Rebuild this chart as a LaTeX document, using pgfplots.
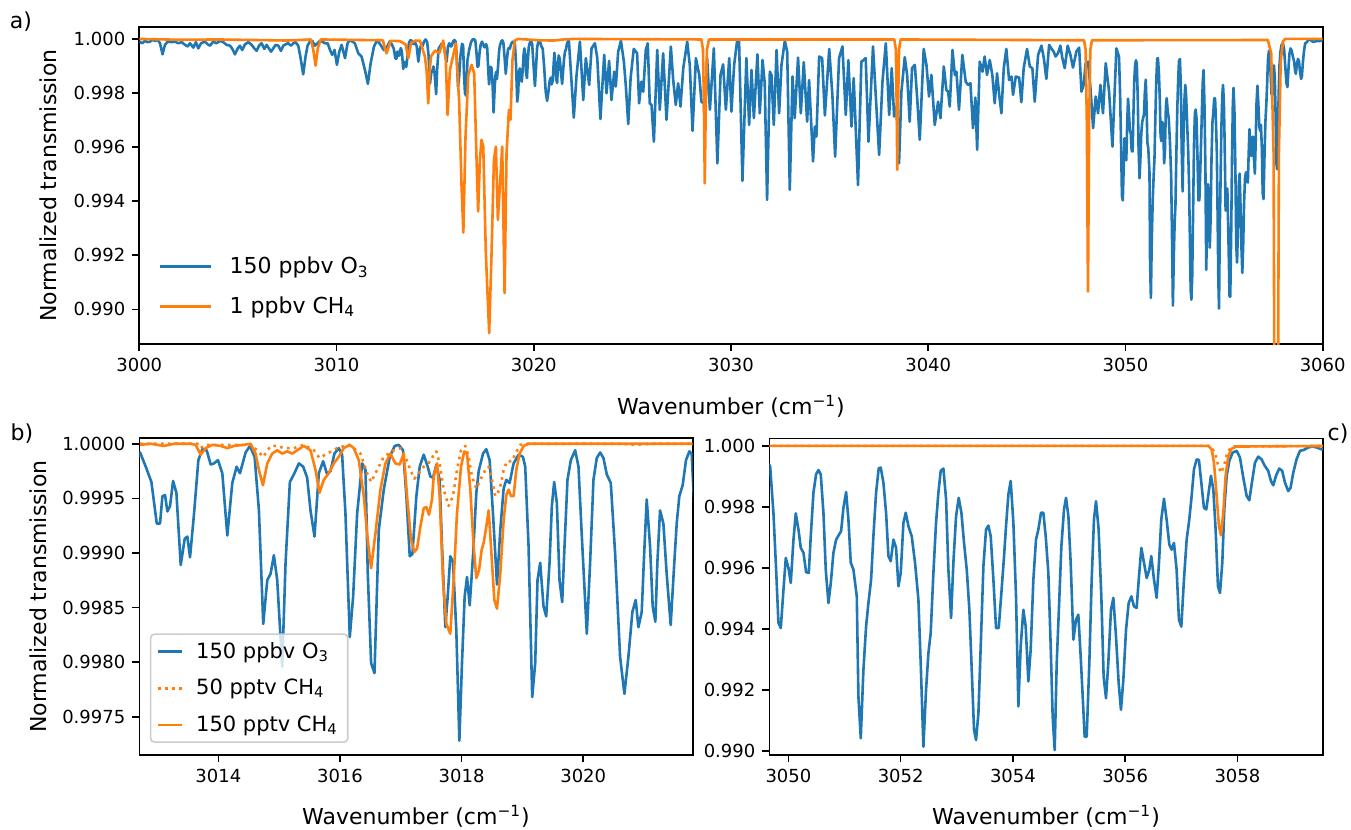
\documentclass[border=0pt]{standalone}
\usepackage{fontspec}
\setmainfont{DejaVu Sans}
\usepackage{pgfplots}
\pgfplotsset{compat=1.18}
\usepackage{pgfplotstable}
\definecolor{mplblue}{HTML}{1F77B4}
\definecolor{mplorange}{HTML}{FF7F0E}

% 150 ppbv O3 (read from panels a, b and c)
\pgfplotstableread{
x y
3000.00 0.99990
3000.15 0.99984
3000.29 0.99993
3000.42 0.99988
3000.54 0.99990
3000.66 0.99996
3000.80 0.99993
3000.93 0.99996
3001.05 0.99984
3001.18 0.99943
3001.30 0.99978
3001.44 0.99990
3001.64 0.99988
3001.81 0.99990
3001.98 0.99984
3002.15 0.99988
3002.32 0.99978
3002.45 0.99972
3002.57 0.99984
3002.74 0.99968
3002.87 0.99988
3002.99 0.99965
3003.13 0.99984
3003.33 0.99990
3003.47 0.99980
3003.58 0.99975
3003.75 0.99990
3003.92 0.99984
3004.09 0.99993
3004.26 0.99988
3004.43 0.99978
3004.60 0.99975
3004.72 0.99963
3004.85 0.99943
3004.99 0.99965
3005.10 0.99975
3005.22 0.99959
3005.36 0.99980
3005.53 0.99988
3005.70 0.99978
3005.83 0.99965
3005.95 0.99956
3006.07 0.99975
3006.20 0.99984
3006.34 0.99963
3006.46 0.99978
3006.57 0.99965
3006.68 0.99953
3006.79 0.99965
3006.91 0.99978
3007.05 0.99975
3007.18 0.99956
3007.30 0.99975
3007.42 0.99980
3007.55 0.99984
3007.69 0.99975
3007.81 0.99984
3007.92 0.99988
3008.06 0.99975
3008.18 0.99929
3008.31 0.99869
3008.43 0.99935
3008.53 0.99975
3008.65 0.99990
3008.77 0.99993
3008.90 0.99975
3009.04 0.99984
3009.16 0.99993
3009.28 0.99990
3009.41 0.99984
3009.55 0.99984
3009.67 0.99959
3009.78 0.99941
3009.90 0.99959
3010.02 0.99904
3010.14 0.99953
3010.26 0.99978
3010.43 0.99929
3010.56 0.99984
3010.68 0.99996
3010.93 0.99984
3011.10 0.99947
3011.27 0.99935
3011.44 0.99885
3011.59 0.99834
3011.73 0.99910
3011.90 0.99972
3012.06 0.99996
3012.23 0.99978
3012.40 0.99959
3012.57 0.99972
3012.713 0.99992
3012.806 0.99979
3012.899 0.99965
3012.987 0.99927
3013.041 0.99927
3013.080 0.99952
3013.123 0.99953
3013.162 0.99938
3013.206 0.99943
3013.255 0.99966
3013.310 0.99955
3013.381 0.99889
3013.447 0.99913
3013.490 0.99915
3013.534 0.99896
3013.600 0.99936
3013.671 0.99985
3013.737 0.99995
3013.808 0.99994
3013.874 0.99981
3013.928 0.99982
3013.994 0.99985
3014.065 0.99973
3014.147 0.99916
3014.229 0.99964
3014.300 0.99979
3014.355 0.99973
3014.448 0.99992
3014.519 0.99998
3014.596 0.99988
3014.667 0.99939
3014.738 0.99835
3014.804 0.99875
3014.859 0.99881
3014.913 0.99898
3014.968 0.99875
3015.050 0.99796
3015.105 0.99891
3015.176 0.99965
3015.242 0.99972
3015.324 0.99982
3015.395 0.99979
3015.460 0.99969
3015.515 0.99939
3015.581 0.99915
3015.652 0.99973
3015.723 0.99984
3015.789 0.99972
3015.844 0.99975
3015.909 0.99991
3015.980 0.99996
3016.035 0.99990
3016.090 0.99936
3016.161 0.99823
3016.216 0.99860
3016.282 0.99936
3016.364 0.99982
3016.419 0.99976
3016.457 0.99881
3016.512 0.99799
3016.567 0.99790
3016.638 0.99921
3016.720 0.99958
3016.818 0.99988
3016.900 0.99998
3016.966 0.99999
3017.037 0.99994
3017.092 0.99952
3017.147 0.99897
3017.191 0.99899
3017.256 0.99952
3017.311 0.99979
3017.377 0.99990
3017.442 0.99979
3017.486 0.99970
3017.530 0.99969
3017.585 0.99981
3017.639 0.99967
3017.678 0.99906
3017.732 0.99832
3017.771 0.99860
3017.814 0.99897
3017.858 0.99892
3017.913 0.99829
3017.963 0.99728
3018.006 0.99799
3018.050 0.99860
3018.089 0.99878
3018.133 0.99852
3018.187 0.99897
3018.242 0.99955
3018.281 0.99975
3018.352 0.99991
3018.406 0.99995
3018.461 0.99985
3018.516 0.99936
3018.582 0.99871
3018.636 0.99921
3018.691 0.99959
3018.735 0.99967
3018.789 0.99964
3018.855 0.99982
3018.937 0.99990
3019.008 0.99988
3019.046 0.99979
3019.101 0.99906
3019.161 0.99768
3019.210 0.99799
3019.248 0.99875
3019.292 0.99891
3019.347 0.99851
3019.391 0.99842
3019.446 0.99891
3019.484 0.99943
3019.522 0.99965
3019.566 0.99946
3019.610 0.99875
3019.654 0.99855
3019.692 0.99906
3019.741 0.99967
3019.796 0.99985
3019.867 0.99994
3019.922 0.99979
3019.977 0.99915
3020.059 0.99826
3020.113 0.99891
3020.168 0.99967
3020.223 0.99987
3020.278 0.99992
3020.332 0.99987
3020.387 0.99972
3020.453 0.99964
3020.524 0.99900
3020.606 0.99805
3020.677 0.99771
3020.743 0.99805
3020.808 0.99846
3020.863 0.99857
3020.907 0.99832
3020.962 0.99846
3021.000 0.99897
3021.044 0.99949
3021.099 0.99906
3021.142 0.99851
3021.186 0.99837
3021.219 0.99891
3021.263 0.99939
3021.318 0.99927
3021.372 0.99881
3021.438 0.99834
3021.493 0.99887
3021.537 0.99927
3021.580 0.99952
3021.635 0.99962
3021.690 0.99985
3021.745 0.99993
3021.783 0.99991
3021.86 0.99904
3022.03 0.99709
3022.17 0.99867
3022.34 0.99990
3022.51 0.99774
3022.64 0.99929
3022.81 0.99830
3022.93 0.99965
3023.10 0.99984
3023.22 0.99929
3023.38 0.99704
3023.57 0.99941
3023.69 0.99799
3023.82 0.99919
3023.94 0.99774
3024.08 0.99879
3024.16 0.99824
3024.28 0.99953
3024.42 0.99993
3024.57 0.99916
3024.67 0.99824
3024.79 0.99685
3024.91 0.99855
3025.07 0.99963
3025.24 0.99947
3025.34 0.99762
3025.46 0.99842
3025.55 0.99805
3025.68 0.99959
3025.78 0.99984
3025.88 0.99762
3025.97 0.99756
3026.09 0.99620
3026.26 0.99959
3026.39 0.99738
3026.56 0.99947
3026.73 0.99701
3026.95 0.99972
3027.07 0.99848
3027.20 0.99756
3027.32 0.99836
3027.44 0.99750
3027.58 0.99892
3027.78 0.99990
3027.91 0.99904
3028.05 0.99660
3028.22 0.99929
3028.39 0.99867
3028.50 0.99768
3028.62 0.99762
3028.67 0.99701
3028.79 0.99929
3028.93 0.99738
3029.13 0.99965
3029.31 0.99540
3029.47 0.99867
3029.60 0.99906
3029.74 0.99738
3029.91 0.99929
3030.02 0.99731
3030.16 0.99904
3030.31 0.99993
3030.41 0.99990
3030.58 0.99475
3030.78 0.99929
3030.92 0.99682
3031.04 0.99885
3031.16 0.99707
3031.34 0.99943
3031.46 0.99725
3031.60 0.99922
3031.71 0.99836
3031.83 0.99405
3031.97 0.99879
3032.05 0.99867
3032.17 0.99682
3032.31 0.99959
3032.44 0.99725
3032.56 0.99904
3032.73 0.99993
3032.85 0.99953
3032.98 0.99442
3033.12 0.99861
3033.23 0.99707
3033.40 0.99931
3033.54 0.99725
3033.69 0.99914
3033.86 0.99694
3033.96 0.99848
3034.16 0.99547
3034.25 0.99676
3034.33 0.99639
3034.47 0.99935
3034.62 0.99929
3034.76 0.99717
3034.98 0.99963
3035.14 0.99793
3035.28 0.99565
3035.48 0.99929
3035.65 0.99972
3035.82 0.99719
3035.95 0.99922
3036.11 0.99676
3036.22 0.99855
3036.44 0.99460
3036.61 0.99916
3036.73 0.99922
3036.83 0.99929
3036.97 0.99620
3037.20 0.99972
3037.51 0.99571
3037.68 0.99842
3037.85 0.99984
3038.02 0.99719
3038.15 0.99892
3038.27 0.99713
3038.39 0.99750
3038.52 0.99540
3038.64 0.99805
3038.81 0.99932
3038.93 0.99867
3039.06 0.99694
3039.18 0.99892
3039.32 0.99904
3039.44 0.99781
3039.57 0.99627
3039.77 0.99963
3039.91 0.99904
3040.04 0.99787
3040.16 0.99867
3040.33 0.99682
3040.50 0.99768
3040.62 0.99707
3040.79 0.99898
3040.92 0.99811
3041.01 0.99805
3041.09 0.99750
3041.23 0.99959
3041.35 0.99867
3041.43 0.99879
3041.56 0.99738
3041.73 0.99941
3041.90 0.99842
3042.02 0.99830
3042.14 0.99836
3042.27 0.99670
3042.39 0.99783
3042.48 0.99590
3042.61 0.99916
3042.75 0.99879
3042.86 0.99935
3042.98 0.99867
3043.12 0.99922
3043.25 0.99867
3043.37 0.99762
3043.49 0.99873
3043.59 0.99799
3043.71 0.99725
3043.83 0.99892
3043.96 0.99963
3044.10 0.99848
3044.22 0.99861
3044.30 0.99793
3044.44 0.99861
3044.61 0.99857
3044.72 0.99766
3044.84 0.99892
3045.01 0.99963
3045.15 0.99898
3045.28 0.99892
3045.40 0.99768
3045.57 0.99941
3045.74 0.99975
3045.86 0.99929
3045.99 0.99852
3046.13 0.99978
3046.24 0.99965
3046.36 0.99953
3046.46 0.99935
3046.58 0.99947
3046.70 0.99975
3046.80 0.99929
3046.92 0.99892
3047.07 0.99975
3047.21 0.99941
3047.34 0.99894
3047.51 0.99953
3047.65 0.99968
3047.77 0.99805
3047.88 0.99830
3047.98 0.99910
3048.10 0.99916
3048.22 0.99824
3048.36 0.99670
3048.49 0.99787
3048.61 0.99725
3048.73 0.99830
3048.86 0.99725
3049.00 0.99910
3049.17 0.99805
3049.34 0.99602
3049.54 0.99965
3049.674 0.99934
3049.733 0.99781
3049.781 0.99595
3049.822 0.99420
3049.864 0.99403
3049.912 0.99529
3049.953 0.99633
3050.001 0.99600
3050.042 0.99551
3050.090 0.99693
3050.131 0.99779
3050.179 0.99726
3050.220 0.99666
3050.268 0.99650
3050.315 0.99586
3050.363 0.99584
3050.398 0.99704
3050.446 0.99847
3050.493 0.99907
3050.535 0.99921
3050.576 0.99907
3050.624 0.99781
3050.665 0.99595
3050.713 0.99485
3050.755 0.99551
3050.802 0.99650
3050.850 0.99693
3050.939 0.99721
3050.980 0.99797
3051.028 0.99849
3051.069 0.99759
3051.111 0.99617
3051.158 0.99595
3051.218 0.99507
3051.247 0.99179
3051.289 0.99042
3051.336 0.99266
3051.384 0.99409
3051.425 0.99485
3051.473 0.99562
3051.514 0.99704
3051.562 0.99847
3051.609 0.99927
3051.645 0.99929
3051.692 0.99880
3051.740 0.99781
3051.782 0.99639
3051.823 0.99622
3051.871 0.99693
3051.918 0.99666
3051.960 0.99540
3052.001 0.99584
3052.049 0.99748
3052.090 0.99781
3052.138 0.99737
3052.197 0.99704
3052.256 0.99617
3052.316 0.99496
3052.357 0.99288
3052.405 0.99014
3052.452 0.99200
3052.494 0.99321
3052.535 0.99387
3052.583 0.99584
3052.630 0.99748
3052.672 0.99847
3052.713 0.99918
3052.761 0.99926
3052.809 0.99825
3052.850 0.99595
3052.898 0.99436
3052.939 0.99617
3052.987 0.99770
3053.034 0.99830
3053.082 0.99781
3053.129 0.99682
3053.177 0.99595
3053.224 0.99463
3053.266 0.99266
3053.307 0.99069
3053.343 0.99036
3053.385 0.99124
3053.426 0.99343
3053.474 0.99606
3053.521 0.99726
3053.563 0.99739
3053.604 0.99704
3053.652 0.99562
3053.699 0.99403
3053.747 0.99403
3053.794 0.99518
3053.842 0.99639
3053.877 0.99737
3053.919 0.99841
3053.960 0.99885
3054.008 0.99748
3054.055 0.99507
3054.097 0.99146
3054.138 0.99343
3054.186 0.99463
3054.227 0.99409
3054.275 0.99228
3054.316 0.99332
3054.364 0.99562
3054.411 0.99693
3054.453 0.99726
3054.500 0.99781
3054.542 0.99781
3054.584 0.99704
3054.631 0.99584
3054.673 0.99343
3054.708 0.99113
3054.744 0.99003
3054.780 0.99288
3054.821 0.99474
3054.863 0.99671
3054.910 0.99792
3054.946 0.99830
3054.988 0.99770
3055.029 0.99617
3055.077 0.99365
3055.124 0.99431
3055.165 0.99447
3055.207 0.99310
3055.243 0.99179
3055.278 0.99047
3055.314 0.99047
3055.361 0.99288
3055.403 0.99562
3055.444 0.99759
3055.480 0.99819
3055.527 0.99726
3055.575 0.99507
3055.616 0.99244
3055.658 0.99173
3055.699 0.99288
3055.747 0.99463
3055.789 0.99502
3055.836 0.99376
3055.884 0.99222
3055.925 0.99135
3055.967 0.99233
3056.015 0.99398
3056.062 0.99485
3056.110 0.99507
3056.157 0.99474
3056.204 0.99469
3056.246 0.99573
3056.288 0.99666
3056.335 0.99617
3056.383 0.99567
3056.430 0.99595
3056.465 0.99639
3056.513 0.99562
3056.560 0.99502
3056.602 0.99617
3056.643 0.99759
3056.691 0.99827
3056.738 0.99759
3056.786 0.99677
3056.827 0.99660
3056.869 0.99682
3056.916 0.99595
3056.958 0.99430
3057.000 0.99408
3057.047 0.99562
3057.095 0.99693
3057.142 0.99759
3057.184 0.99836
3057.225 0.99923
3057.273 0.99956
3057.314 0.99954
3057.356 0.99880
3057.403 0.99797
3057.445 0.99792
3057.487 0.99847
3057.528 0.99902
3057.570 0.99858
3057.611 0.99726
3057.653 0.99540
3057.689 0.99518
3057.730 0.99617
3057.766 0.99792
3057.808 0.99902
3057.855 0.99951
3057.914 0.99978
3057.985 0.99984
3058.045 0.99962
3058.104 0.99896
3058.164 0.99836
3058.211 0.99822
3058.258 0.99880
3058.312 0.99945
3058.371 0.99965
3058.430 0.99956
3058.490 0.99934
3058.549 0.99918
3058.597 0.99885
3058.638 0.99871
3058.686 0.99902
3058.745 0.99926
3058.798 0.99918
3058.846 0.99880
3058.905 0.99852
3058.947 0.99863
3058.994 0.99912
3059.053 0.99956
3059.113 0.99984
3059.184 0.99987
3059.261 0.99995
3059.338 0.99998
3059.410 0.99995
3059.499 0.99989
3059.700 0.99992
3060.000 0.99993
}\ozone

% 1 ppbv CH4 (panel a)
\pgfplotstableread{
x y
3000.00 1.00000
3002.00 0.99997
3004.00 0.99998
3006.80 0.99995
3007.50 0.99994
3008.70 0.99998
3008.82 0.99960
3008.94 0.99901
3009.05 0.99965
3009.20 0.99998
3012.35 0.99995
3012.47 0.99960
3012.54 0.99947
3012.62 0.99965
3012.75 0.99993
3013.20 0.99992
3013.50 0.99980
3013.64 0.99929
3013.78 0.99985
3014.00 0.99994
3014.23 0.99994
3014.48 0.99935
3014.57 0.99880
3014.65 0.99762
3014.72 0.99880
3014.79 0.99935
3014.99 0.99957
3015.21 0.99947
3015.41 0.99994
3015.54 0.99922
3015.63 0.99719
3015.75 0.99885
3015.92 0.99941
3016.05 0.99984
3016.22 0.99762
3016.34 0.99454
3016.43 0.99284
3016.54 0.99639
3016.68 0.99867
3016.85 0.99904
3016.98 0.99873
3017.10 0.99553
3017.18 0.99362
3017.27 0.99553
3017.35 0.99627
3017.44 0.99602
3017.57 0.99208
3017.74 0.98912
3017.86 0.99208
3017.98 0.99553
3018.08 0.99602
3018.18 0.99331
3018.28 0.99454
3018.40 0.99602
3018.52 0.99060
3018.62 0.99577
3018.74 0.99738
3018.82 0.99701
3018.92 0.99922
3019.04 0.99994
3019.21 1.00000
3020.30 0.99995
3021.00 0.99994
3021.50 0.99998
3022.00 1.00000
3028.50 0.99998
3028.58 0.99960
3028.63 0.99750
3028.67 0.99466
3028.72 0.99750
3028.78 0.99960
3028.88 0.99998
3038.28 0.99998
3038.36 0.99960
3038.40 0.99750
3038.43 0.99516
3038.47 0.99750
3038.52 0.99960
3038.60 0.99998
3047.90 0.99995
3047.98 0.99960
3048.04 0.99700
3048.10 0.99066
3048.16 0.99700
3048.22 0.99960
3048.30 0.99995
3057.22 0.99996
3057.39 0.99947
3057.51 0.99577
3057.58 0.98000
3057.70 0.98000
3057.78 0.99577
3057.87 0.99914
3057.98 0.99990
3058.10 1.00000
3060.00 1.00000
}\chtop

% 150 pptv CH4, panel b
\pgfplotstableread{
x y
3012.713 0.99999
3012.888 1.00000
3013.107 0.99998
3013.271 1.00000
3013.545 1.00000
3013.627 0.99999
3013.709 0.99990
3013.791 0.99996
3013.901 0.99999
3014.038 0.99998
3014.147 0.99996
3014.256 0.99998
3014.420 0.99999
3014.530 1.00000
3014.612 0.99991
3014.667 0.99976
3014.733 0.99962
3014.804 0.99982
3014.886 0.99991
3014.968 0.99994
3015.050 0.99991
3015.132 0.99993
3015.214 0.99991
3015.296 0.99994
3015.406 0.99998
3015.515 0.99994
3015.598 0.99976
3015.663 0.99955
3015.734 0.99967
3015.816 0.99973
3015.898 0.99982
3015.980 0.99988
3016.062 0.99996
3016.161 0.99999
3016.227 0.99996
3016.309 0.99985
3016.391 0.99952
3016.457 0.99912
3016.512 0.99886
3016.583 0.99918
3016.665 0.99958
3016.747 0.99982
3016.829 0.99991
3016.911 0.99982
3016.982 0.99981
3017.048 0.99991
3017.103 0.99952
3017.169 0.99912
3017.224 0.99901
3017.267 0.99904
3017.322 0.99924
3017.377 0.99941
3017.420 0.99942
3017.464 0.99935
3017.513 0.99949
3017.541 0.99970
3017.596 0.99982
3017.639 0.99952
3017.694 0.99875
3017.749 0.99835
3017.814 0.99826
3017.869 0.99875
3017.924 0.99936
3017.990 0.99979
3018.044 0.99993
3018.089 0.99991
3018.143 0.99958
3018.198 0.99906
3018.242 0.99877
3018.286 0.99884
3018.330 0.99903
3018.362 0.99909
3018.406 0.99924
3018.445 0.99939
3018.483 0.99906
3018.538 0.99857
3018.582 0.99849
3018.636 0.99881
3018.691 0.99930
3018.735 0.99953
3018.773 0.99958
3018.812 0.99952
3018.855 0.99952
3018.899 0.99976
3018.954 0.99991
3019.020 0.99998
3019.102 1.00000
3021.800 1.00000
}\chbB

% 50 pptv CH4, panel b
\pgfplotstableread{
x y
3012.713 1.00000
3013.655 1.00000
3013.709 0.99996
3013.791 0.99999
3014.530 0.99999
3014.640 0.99994
3014.738 0.99988
3014.859 0.99998
3014.968 0.99998
3015.077 0.99996
3015.242 0.99996
3015.406 0.99999
3015.570 0.99994
3015.663 0.99987
3015.789 0.99991
3015.953 0.99996
3016.145 0.99999
3016.337 0.99991
3016.446 0.99973
3016.512 0.99965
3016.583 0.99973
3016.720 0.99988
3016.884 0.99994
3016.993 0.99996
3017.076 0.99988
3017.158 0.99976
3017.224 0.99968
3017.295 0.99973
3017.377 0.99979
3017.431 0.99981
3017.486 0.99984
3017.541 0.99990
3017.585 0.99993
3017.639 0.99982
3017.705 0.99958
3017.787 0.99943
3017.858 0.99952
3017.924 0.99976
3017.990 0.99994
3018.061 0.99998
3018.116 0.99988
3018.170 0.99970
3018.242 0.99959
3018.308 0.99967
3018.390 0.99976
3018.445 0.99979
3018.499 0.99967
3018.554 0.99952
3018.625 0.99958
3018.691 0.99976
3018.746 0.99984
3018.828 0.99984
3018.883 0.99991
3018.965 0.99999
3019.074 1.00000
3020.600 1.00000
3020.900 0.99999
3021.100 1.00000
3021.800 1.00000
}\chaB

% 150 pptv CH4, panel c
\pgfplotstableread{
x y
3049.600 1.00000
3057.481 1.00000
3057.540 0.99989
3057.582 0.99945
3057.629 0.99836
3057.671 0.99737
3057.706 0.99707
3057.748 0.99781
3057.789 0.99902
3057.837 0.99967
3057.896 0.99991
3057.985 0.99998
3059.600 1.00000
}\chbC

% 50 pptv CH4, panel c
\pgfplotstableread{
x y
3049.600 1.00000
3057.511 1.00000
3057.600 0.99978
3057.659 0.99934
3057.706 0.99912
3057.760 0.99934
3057.819 0.99978
3057.896 0.99998
3059.600 1.00000
}\chaC

\pgfplotsset{
  spec/.style={
    scale only axis,
    anchor=north west,
    axis line style={line width=0.8pt},
    tick align=outside,
    xtick pos=bottom, ytick pos=left,
    major tick length=3.5pt,
    every tick/.style={black, line width=0.8pt},
    tick label style={font=\fontsize{9}{10}\selectfont},
    label style={font=\fontsize{11}{13}\selectfont},
    scaled ticks=false,
    /pgf/number format/assume math mode=true,
    every axis plot/.append style={line width=1.3pt, line join=round, no markers},
  },
  dotstyle/.style={dash pattern=on 1.3pt off 2.2pt},
}

\begin{document}
\begin{tikzpicture}
\useasboundingbox (0pt,0pt) rectangle (675.5pt,-415pt);

% ---------------- panel a
\begin{axis}[spec,
  at={(69.65pt,-13.65pt)}, width=591.7pt, height=158.35pt,
  xmin=3000, xmax=3060, ymin=0.98872, ymax=1.00043,
  xtick={3000,3010,3020,3030,3040,3050,3060},
  xticklabels={3000,3010,3020,3030,3040,3050,3060},
  ytick={0.990,0.992,0.994,0.996,0.998,1.000},
  yticklabels={0.990,0.992,0.994,0.996,0.998,1.000},
  xlabel={Wavenumber (cm\textsuperscript{−1})},
  ylabel={Normalized transmission},
  xlabel style={at={(axis description cs:0.5,-0.196)}, anchor=center},
  ylabel style={at={(axis description cs:-0.0772,0.5)}, anchor=center},
  legend style={draw=none, fill=none, at={(axis description cs:0.0108,0.302)}, anchor=north west,
    font=\fontsize{11}{13}\selectfont, row sep=6pt},
  legend cell align=left,
  legend image code/.code={\draw[#1] (0pt,0pt) -- (25.8pt,0pt); \path (32.3pt,0pt);},
]
\addplot[mplblue] table {\ozone};
\addlegendentry{150 ppbv O\textsubscript{3}}
\addplot[mplorange] table {\chtop};
\addlegendentry{1 ppbv CH\textsubscript{4}}
\end{axis}

% ---------------- panel b
\begin{axis}[spec,
  at={(69.65pt,-219.15pt)}, width=276.7pt, height=158.35pt,
  xmin=3012.7, xmax=3021.8, ymin=0.99715, ymax=1.00005,
  xtick={3014,3016,3018,3020},
  xticklabels={3014,3016,3018,3020},
  ytick={0.9975,0.998,0.9985,0.999,0.9995,1.0},
  yticklabels={0.9975,0.9980,0.9985,0.9990,0.9995,1.0000},
  xlabel={Wavenumber (cm\textsuperscript{−1})},
  ylabel={Normalized transmission},
  xlabel style={at={(axis description cs:0.5,-0.1926)}, anchor=center},
  ylabel style={at={(axis description cs:-0.183,0.5)}, anchor=center},
  legend style={draw={rgb,255:red,204;green,204;blue,204}, line width=0.8pt, rounded corners=2pt,
    fill=white, fill opacity=0.8, text opacity=1, inner xsep=3pt,
    at={(axis description cs:0.0190,0.0379)}, anchor=south west,
    font=\fontsize{10.5}{12.5}\selectfont, row sep=5pt},
  legend cell align=left,
  legend image code/.code={\draw[#1] (0pt,0pt) -- (12pt,0pt); \path (16.5pt,0pt);},
]
\addplot[mplblue] table {\ozone};
\addlegendentry{150 ppbv O\textsubscript{3}}
\addplot[mplorange, dotstyle] table {\chaB};
\addlegendentry{50 pptv CH\textsubscript{4}}
\addplot[mplorange] table {\chbB};
\addlegendentry{150 pptv CH\textsubscript{4}}
\end{axis}

% ---------------- panel c
\begin{axis}[spec,
  at={(384.65pt,-219.15pt)}, width=276.7pt, height=158.35pt,
  xmin=3049.66, xmax=3059.52, ymin=0.98987, ymax=1.00025,
  xtick={3050,3052,3054,3056,3058},
  xticklabels={3050,3052,3054,3056,3058},
  ytick={0.990,0.992,0.994,0.996,0.998,1.000},
  yticklabels={0.990,0.992,0.994,0.996,0.998,1.000},
  xlabel={Wavenumber (cm\textsuperscript{−1})},
  xlabel style={at={(axis description cs:0.5,-0.1926)}, anchor=center},
]
\addplot[mplblue] table {\ozone};
\addplot[mplorange, dotstyle] table {\chaC};
\addplot[mplorange] table {\chbC};
\end{axis}

\node[font=\fontsize{11}{13}\selectfont] at (10.5pt,-11pt) {a)};
\node[font=\fontsize{11}{13}\selectfont] at (11pt,-217pt) {b)};
\node[font=\fontsize{11}{13}\selectfont] at (669pt,-217pt) {c)};
\end{tikzpicture}
\end{document}
